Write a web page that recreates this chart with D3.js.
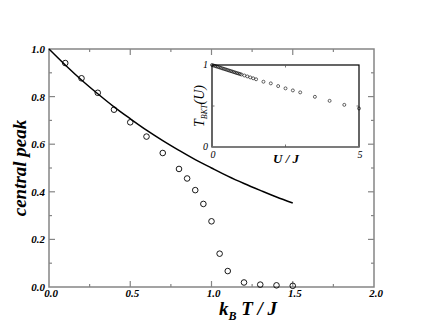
<!DOCTYPE html>
<html>
<head>
<meta charset="utf-8">
<script src="https://cdn.jsdelivr.net/npm/d3@7"></script>
<style>
  body { margin: 0; background: #fff; }
</style>
</head>
<body>
<svg id="chart" width="423" height="327" font-family="'Liberation Serif', 'Times New Roman', 'DejaVu Serif', serif"></svg>
<script>
// main panel: central peak vs k_B T / J
const peakT = [0.1, 0.2, 0.3, 0.4, 0.5, 0.6, 0.7, 0.8, 0.85, 0.9, 0.95, 1.0, 1.05, 1.1, 1.2, 1.3, 1.4, 1.5];
const peakVal = [0.941, 0.877, 0.816, 0.745, 0.692, 0.632, 0.563, 0.496, 0.456, 0.407, 0.349, 0.276, 0.14, 0.067, 0.019, 0.01, 0.007, 0.005];
const curveT = [0, 0.1, 0.2, 0.3, 0.4, 0.5, 0.6, 0.7, 0.8, 0.9, 1.0, 1.1, 1.2, 1.3, 1.4, 1.5];
const curveVal = [1.0, 0.933, 0.870, 0.812, 0.757, 0.707, 0.659, 0.615, 0.574, 0.535, 0.500, 0.466, 0.435, 0.406, 0.378, 0.353];
const xTicks = [0, 0.5, 1.0, 1.5, 2.0];
const yTicks = [0, 0.2, 0.4, 0.6, 0.8, 1.0];

// inset: T_BKT(U)
const insetU = [0, 0.05, 0.1, 0.15, 0.2, 0.25, 0.3, 0.35, 0.4, 0.45, 0.5, 0.55, 0.6, 0.65, 0.7, 0.75, 0.8, 0.85, 0.9, 0.95, 1.0,
  1.1, 1.2, 1.3, 1.4, 1.5, 1.75, 2.0, 2.25, 2.5, 2.75, 3.0, 3.5, 4.0, 4.5, 5.0];
const insetT = [1.000, 0.994, 0.988, 0.982, 0.977, 0.971, 0.965, 0.959, 0.953, 0.948, 0.942, 0.936, 0.930, 0.925, 0.919, 0.913, 0.907, 0.901, 0.896, 0.890, 0.884,
  0.872, 0.861, 0.849, 0.838, 0.826, 0.796, 0.776, 0.743, 0.715, 0.690, 0.666, 0.612, 0.563, 0.514, 0.470];

const svg = d3.select("#chart");
const frameColor = "#858585";

const m = { left: 49, right: 374, top: 49, bottom: 287 };
const x = d3.scaleLinear().domain([0, 2]).range([m.left, m.right]);
const y = d3.scaleLinear().domain([0, 1]).range([m.bottom, m.top]);

const minorX = d3.range(0, 2.001, 0.25);
const minorY = d3.range(0, 1.001, 0.1);

// frame
svg.append("rect")
  .attr("x", m.left).attr("y", m.top)
  .attr("width", m.right - m.left).attr("height", m.bottom - m.top)
  .attr("fill", "none").attr("stroke", frameColor).attr("stroke-width", 1.5);

const tickG = svg.append("g").attr("stroke", frameColor).attr("stroke-width", 1.2);
minorX.forEach(v => {
  const len = xTicks.some(t => Math.abs(t - v) < 1e-6) ? 6 : 3;
  if (v === 0 || v === 2) return;
  tickG.append("line").attr("x1", x(v)).attr("x2", x(v)).attr("y1", m.bottom).attr("y2", m.bottom - len);
  tickG.append("line").attr("x1", x(v)).attr("x2", x(v)).attr("y1", m.top).attr("y2", m.top + len);
});
minorY.forEach(v => {
  const len = yTicks.some(t => Math.abs(t - v) < 1e-6) ? 6 : 3;
  if (v < 1e-6 || v > 0.999) return;
  tickG.append("line").attr("x1", m.left).attr("x2", m.left + len).attr("y1", y(v)).attr("y2", y(v));
  tickG.append("line").attr("x1", m.right).attr("x2", m.right - len).attr("y1", y(v)).attr("y2", y(v));
});

const labStyle = sel => sel.attr("font-size", 11).attr("font-weight", "bold").attr("font-style", "italic").attr("fill", "#000");

svg.append("g").selectAll("text").data(xTicks).join("text")
  .attr("x", d => x(d) + 2).attr("y", 297)
  .attr("text-anchor", "middle")
  .text(d => d.toFixed(1))
  .call(labStyle);

svg.append("g").selectAll("text").data(yTicks).join("text")
  .attr("x", 45).attr("y", d => y(d) + 4)
  .attr("text-anchor", "end")
  .text(d => d.toFixed(1))
  .call(labStyle);

// axis titles
svg.append("text")
  .attr("transform", `translate(26,${(m.top + m.bottom) / 2}) rotate(-90)`)
  .attr("text-anchor", "middle")
  .attr("font-size", 19).attr("font-weight", "bold").attr("font-style", "italic")
  .text("central peak");

const xt = svg.append("text")
  .attr("x", 248).attr("y", 315)
  .attr("text-anchor", "middle")
  .attr("font-size", 19).attr("font-weight", "bold").attr("font-style", "italic");
xt.append("tspan").text("k");
xt.append("tspan").attr("font-size", 12).attr("dy", 5).text("B");
xt.append("tspan").attr("dy", -5).text(" T / J");

// curve
const line = d3.line().x((d, i) => x(curveT[i])).y(d => y(d)).curve(d3.curveMonotoneX);
svg.append("path").datum(curveVal)
  .attr("d", line)
  .attr("fill", "none").attr("stroke", "#000").attr("stroke-width", 1.5);

// points
svg.append("g").selectAll("circle").data(peakVal).join("circle")
  .attr("cx", (d, i) => x(peakT[i])).attr("cy", d => y(d))
  .attr("r", 2.8)
  .attr("fill", "none").attr("stroke", "#000").attr("stroke-width", 0.9);

// ---- inset ----
const im = { left: 212, right: 359, top: 65, bottom: 147 };
const ix = d3.scaleLinear().domain([0, 5]).range([im.left, im.right]);
const iy = d3.scaleLinear().domain([0, 1]).range([im.bottom, im.top]);

svg.append("rect")
  .attr("x", im.left).attr("y", im.top)
  .attr("width", im.right - im.left).attr("height", im.bottom - im.top)
  .attr("fill", "#fff").attr("stroke", "#000").attr("stroke-width", 1.2);
svg.append("line")
  .attr("x1", im.left).attr("x2", im.right).attr("y1", im.bottom).attr("y2", im.bottom)
  .attr("stroke", frameColor).attr("stroke-width", 1.5);

const itick = svg.append("g").attr("stroke", "#555").attr("stroke-width", 0.8);
[2.5].forEach(v => {
  itick.append("line").attr("x1", ix(v)).attr("x2", ix(v)).attr("y1", im.bottom).attr("y2", im.bottom - 2.5);
  itick.append("line").attr("x1", ix(v)).attr("x2", ix(v)).attr("y1", im.top).attr("y2", im.top + 2.5);
});
[0.5].forEach(v => {
  itick.append("line").attr("x1", im.left).attr("x2", im.left + 2.5).attr("y1", iy(v)).attr("y2", iy(v));
  itick.append("line").attr("x1", im.right).attr("x2", im.right - 2.5).attr("y1", iy(v)).attr("y2", iy(v));
});

const ilab = sel => sel.attr("font-size", 10).attr("font-style", "italic").attr("fill", "#000");
svg.append("g").selectAll("text").data([0, 5]).join("text")
  .attr("x", d => ix(d) + 1).attr("y", 158)
  .attr("text-anchor", "middle").text(d => d).call(ilab);
svg.append("g").selectAll("text").data([0, 1]).join("text")
  .attr("x", 208).attr("y", d => iy(d) + 3)
  .attr("text-anchor", "end").text(d => d).call(ilab);

svg.append("text")
  .attr("x", 286).attr("y", 163)
  .attr("text-anchor", "middle")
  .attr("font-size", 13).attr("font-weight", "bold").attr("font-style", "italic")
  .text("U / J");

const iyt = svg.append("text")
  .attr("transform", `translate(204,${(im.top + im.bottom) / 2}) rotate(-90)`)
  .attr("text-anchor", "middle")
  .attr("font-size", 14).attr("font-style", "italic");
iyt.append("tspan").text("T");
iyt.append("tspan").attr("font-size", 8).attr("dy", 3).text("BKT");
iyt.append("tspan").attr("dy", -3).text("(U)");

svg.append("g").selectAll("circle").data(insetT).join("circle")
  .attr("cx", (d, i) => ix(insetU[i])).attr("cy", d => iy(d))
  .attr("r", 1.5)
  .attr("fill", "none").attr("stroke", "#000").attr("stroke-width", 0.6);
</script>
</body>
</html>
